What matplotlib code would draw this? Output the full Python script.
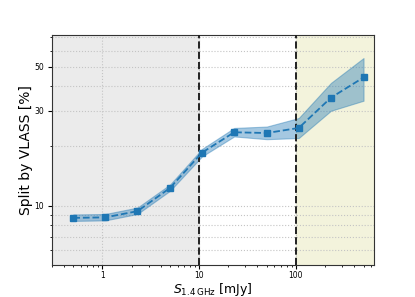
import matplotlib
matplotlib.use("Agg")
import matplotlib.pyplot as plt
from matplotlib.ticker import FixedLocator, FixedFormatter, NullFormatter, LogLocator

flux = [0.5, 1.07, 2.3, 5.0, 10.7, 23.0, 50.0, 107.0, 230.0, 500.0]
split = [8.7, 8.75, 9.4, 12.3, 18.5, 23.4, 23.2, 24.6, 34.9, 44.1]
lower = [8.4, 8.45, 9.1, 11.9, 17.7, 22.3, 21.6, 21.9, 30.0, 33.7]
upper = [9.05, 9.1, 9.8, 12.8, 19.3, 24.6, 25.0, 27.6, 41.4, 55.2]
yticks = [10, 30, 50]
xticks = [1, 10, 100]
xlim = (0.30, 640)
ylim = (5.05, 72)

fig = plt.figure(figsize=(4.15, 2.97), dpi=100)
ax = fig.add_axes([0.125, 0.108, 0.776, 0.774])
ax.set_xscale('log')
ax.set_yscale('log')
ax.set_xlim(*xlim)
ax.set_ylim(*ylim)

ax.axvspan(xlim[0], 10, color='#ebebeb', zorder=0)
ax.axvspan(100, xlim[1], color='#f3f3dc', zorder=0)
ax.axvline(10, color='#222222', ls='--', lw=1.4, zorder=3)
ax.axvline(100, color='#222222', ls='--', lw=1.4, zorder=3)

ax.fill_between(flux, lower, upper, color='C0', alpha=0.4, lw=0.8, zorder=2)
ax.plot(flux, split, ls='--', marker='s', ms=4, color='C0', lw=1.3, zorder=4)

ax.yaxis.set_major_locator(FixedLocator(yticks))
ax.yaxis.set_major_formatter(FixedFormatter([str(t) for t in yticks]))
ax.yaxis.set_minor_locator(FixedLocator([6, 7, 8, 9, 20, 40, 60, 70]))
ax.yaxis.set_minor_formatter(NullFormatter())
ax.xaxis.set_major_locator(FixedLocator(xticks))
ax.xaxis.set_major_formatter(FixedFormatter([str(t) for t in xticks]))
ax.xaxis.set_minor_locator(LogLocator(base=10, subs=range(2, 10)))
ax.xaxis.set_minor_formatter(NullFormatter())

ax.grid(True, which='both', axis='y', ls=':', color='#c4c4c4', lw=0.8, zorder=1)
ax.grid(True, which='major', axis='x', ls=':', color='#c4c4c4', lw=0.8, zorder=1)
ax.set_axisbelow(True)

ax.tick_params(labelsize=5.5, length=3, pad=2.5)
ax.tick_params(axis='x', pad=1.5)
ax.tick_params(which='minor', length=1.5)
for s in ax.spines.values():
    s.set_color('#333333')

ax.set_xlabel(r'$S_{1.4\,\mathrm{GHz}}$ [mJy]', fontsize=9)
ax.xaxis.set_label_coords(0.5, -0.07)
ax.set_ylabel('Split by VLASS [%]', fontsize=10, labelpad=1)

fig.savefig('out.png', dpi=100)
